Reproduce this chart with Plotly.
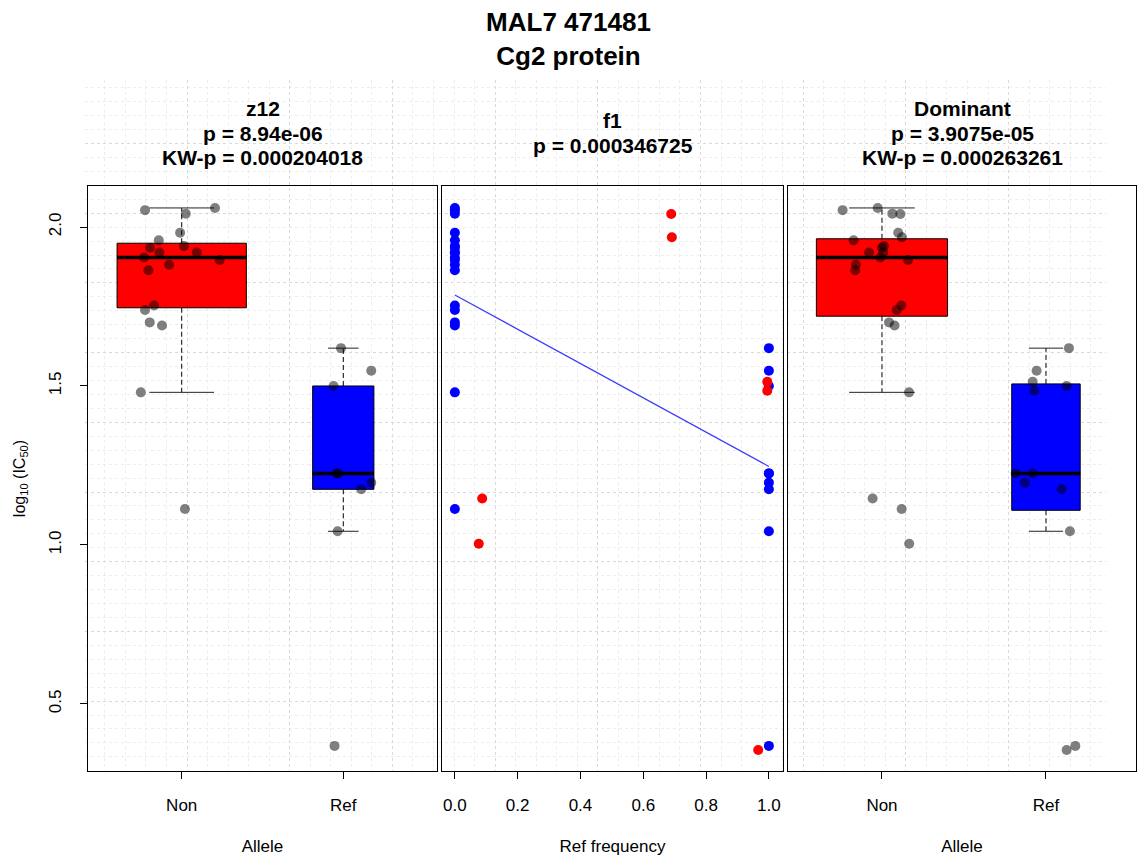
import numpy as np
import plotly.graph_objects as go

W, H = 1137, 856
FONT = "Liberation Sans"

main_title = ["MAL7 471481", "Cg2 protein"]

panel_titles = [
    ["z12", "p = 8.94e-06", "KW-p = 0.000204018"],
    ["f1", "p = 0.000346725"],
    ["Dominant", "p = 3.9075e-05", "KW-p = 0.000263261"],
]

allele_labels = ["Non", "Ref"]
freq_ticks = [0.0, 0.2, 0.4, 0.6, 0.8, 1.0]
y_ticks = [0.5, 1.0, 1.5, 2.0]

# z12 genotype: log10(IC50) with horizontal jitter positions
z12_non_y = [2.053, 2.060, 2.042, 1.982, 1.958, 1.935, 1.920, 1.940, 1.920, 1.904,
             1.896, 1.881, 1.864, 1.739, 1.753, 1.700, 1.690, 1.480, 1.113]
z12_non_x = [0.773, 1.206, 1.025, 0.990, 0.858, 0.804, 0.862, 1.014, 1.093, 0.767,
             1.235, 0.922, 0.794, 0.773, 0.829, 0.802, 0.878, 0.747, 1.020]
z12_ref_y = [1.619, 1.548, 1.500, 1.225, 1.225, 1.196, 1.175, 1.043, 0.368]
z12_ref_x = [1.986, 2.173, 1.940, 1.967, 1.960, 2.173, 2.111, 1.965, 1.946]

# f1: reference allele frequency, single-clone samples (blue) and mixed samples (red)
pure_freq = [0.0, 0.0, 0.0, 0.0, 0.0, 0.0, 0.0, 0.0, 0.0, 0.0,
             0.0, 0.0, 0.0, 0.0, 0.0, 0.0, 0.0, 0.0, 0.0,
             1.0, 1.0, 1.0, 1.0, 1.0, 1.0, 1.0, 1.0, 1.0]
pure_y = [2.053, 2.060, 2.042, 1.982, 1.958, 1.935, 1.920, 1.940, 1.920, 1.904,
          1.896, 1.881, 1.864, 1.739, 1.753, 1.700, 1.690, 1.480, 1.113,
          1.619, 1.548, 1.500, 1.225, 1.225, 1.196, 1.175, 1.043, 0.368]
mixed_freq = [0.689, 0.691, 0.087, 0.076, 0.995, 0.995, 0.966]
mixed_y = [2.041, 1.968, 1.146, 1.004, 1.513, 1.485, 0.355]

# Dominant allele
dom_non_y = [2.053, 2.060, 2.042, 2.041, 1.982, 1.968, 1.958, 1.940, 1.935, 1.920,
             1.920, 1.904, 1.896, 1.881, 1.864, 1.753, 1.739, 1.700, 1.690, 1.480,
             1.146, 1.113, 1.004]
dom_non_x = [0.760, 0.974, 1.063, 1.112, 1.099, 1.122, 0.827, 1.012, 1.000, 0.921,
             1.008, 0.990, 1.159, 0.841, 0.837, 1.118, 1.090, 1.043, 1.077, 1.165,
             0.943, 1.120, 1.166]
dom_ref_y = [1.619, 1.548, 1.513, 1.485, 1.500, 1.225, 1.225, 1.196, 1.175, 1.043,
             0.355, 0.368]
dom_ref_x = [2.140, 1.943, 1.919, 1.929, 2.126, 1.815, 1.919, 1.872, 2.096, 2.146,
             2.126, 2.179]


def fivenum(values):
    """Tukey five-number summary (as used by R's boxplot)."""
    v = np.sort(np.asarray(values, dtype=float))
    n = len(v)
    n4 = np.floor((n + 3) / 2) / 2
    d = np.array([1, n4, (n + 1) / 2, n + 1 - n4, n]) - 1
    return 0.5 * (v[np.floor(d).astype(int)] + v[np.ceil(d).astype(int)])


def box_traces(values, center, fill, xa, ya, half):
    v = np.asarray(values, dtype=float)
    _, q1, med, q3, _ = fivenum(v)
    iqr = q3 - q1
    lo = v[v >= q1 - 1.5 * iqr].min()
    hi = v[v <= q3 + 1.5 * iqr].max()
    common = dict(xaxis=xa, yaxis=ya, showlegend=False, hoverinfo="skip", mode="lines")
    out = []
    # whiskers (dashed) and staples
    out.append(go.Scatter(x=[center, center, None, center, center],
                          y=[q3, hi, None, q1, lo],
                          line=dict(color="black", width=1, dash="5px,3px"), **common))
    out.append(go.Scatter(x=[center - half / 2, center + half / 2, None,
                             center - half / 2, center + half / 2],
                          y=[hi, hi, None, lo, lo],
                          line=dict(color="#222222", width=1), **common))
    # box
    out.append(go.Scatter(x=[center - half, center + half, center + half, center - half, center - half],
                          y=[q1, q1, q3, q3, q1], fill="toself", fillcolor=fill,
                          line=dict(color="black", width=1), **common))
    # median
    out.append(go.Scatter(x=[center - half, center + half], y=[med, med],
                          line=dict(color="black", width=3.5), **common))
    return out


def group_boxes(groups, xa, ya):
    """Boxes whose widths are proportional to group size."""
    nmax = max(len(v) for v, _ in groups)
    traces = []
    for i, (vals, fill) in enumerate(groups):
        traces += box_traces(vals, i + 1, fill, xa, ya, half=0.4 * len(vals) / nmax)
    return traces


def jitter_points(x, y, xa, ya):
    return go.Scatter(x=x, y=y, mode="markers", xaxis=xa, yaxis=ya, showlegend=False,
                      marker=dict(size=10, color="rgba(0,0,0,0.5)", line=dict(width=0)),
                      hovertemplate="%{y:.3f}<extra></extra>")


fig = go.Figure()

# empty trace so the background grid subplot is created first (drawn underneath)
fig.add_trace(go.Scatter(x=[], y=[], xaxis="x", yaxis="y", showlegend=False, hoverinfo="skip"))

# z12 panel
for t in group_boxes([(z12_non_y, "#FF0000"), (z12_ref_y, "#0000FF")], "x2", "y2"):
    fig.add_trace(t)
fig.add_trace(jitter_points(z12_non_x, z12_non_y, "x2", "y2"))
fig.add_trace(jitter_points(z12_ref_x, z12_ref_y, "x2", "y2"))

# f1 panel with least-squares line over all samples
all_freq = np.array(pure_freq + mixed_freq)
all_y = np.array(pure_y + mixed_y)
slope, intercept = np.polyfit(all_freq, all_y, 1)
fx = np.array([all_freq.min(), all_freq.max()])
fig.add_trace(go.Scatter(x=fx, y=intercept + slope * fx, mode="lines", xaxis="x3", yaxis="y3",
                         line=dict(color="#3a3aff", width=1.2), showlegend=False, hoverinfo="skip"))
fig.add_trace(go.Scatter(x=pure_freq, y=pure_y, mode="markers", xaxis="x3", yaxis="y3",
                         marker=dict(size=10, color="#0000FF"), showlegend=False))
fig.add_trace(go.Scatter(x=mixed_freq, y=mixed_y, mode="markers", xaxis="x3", yaxis="y3",
                         marker=dict(size=10, color="#FF0000"), showlegend=False))

# Dominant panel
for t in group_boxes([(dom_non_y, "#FF0000"), (dom_ref_y, "#0000FF")], "x4", "y4"):
    fig.add_trace(t)
fig.add_trace(jitter_points(dom_non_x, dom_non_y, "x4", "y4"))
fig.add_trace(jitter_points(dom_ref_x, dom_ref_y, "x4", "y4"))


def px_x(p):
    return p / W


def px_y(p):
    return 1 - p / H


Y_RANGE = [0.289, 2.129]
PANEL_Y = [px_y(771), px_y(186)]
tickfont = dict(family=FONT, size=17, color="black")
titlefont = dict(family=FONT, size=17, color="black")

panel_x = dict(showline=True, mirror=True, linecolor="black", linewidth=1, showgrid=False,
               zeroline=False, ticks="outside", ticklen=7, tickcolor="black", tickwidth=1,
               tickfont=tickfont, ticklabelstandoff=12, fixedrange=True)
panel_y = dict(showline=True, mirror=True, linecolor="black", linewidth=1, showgrid=False,
               zeroline=False, range=Y_RANGE, domain=PANEL_Y, fixedrange=True)

grid_minor = dict(showgrid=True, griddash="dot", gridcolor="#ededed", gridwidth=1)

fig.update_layout(
    width=W, height=H, autosize=False,
    margin=dict(l=0, r=0, t=0, b=0),
    paper_bgcolor="white", plot_bgcolor="rgba(0,0,0,0)",
    font=dict(family=FONT, color="black"),
    title=dict(text="<b>" + "<br>".join(main_title) + "</b>", x=0.5, xanchor="center",
               xref="paper", yref="container", y=px_y(31), yanchor="middle",
               font=dict(family=FONT, size=26, color="black")),
    # background dotted grid
    xaxis=dict(domain=[px_x(85), px_x(1106)], range=[85, 1106], tick0=84.3, dtick=102.7,
               showgrid=True, griddash="dot", gridcolor="#d9d9d9", gridwidth=1,
               minor=dict(tick0=84.3, dtick=20.54, **grid_minor),
               showticklabels=False, ticks="", zeroline=False, showline=False, fixedrange=True),
    yaxis=dict(domain=[px_y(771), px_y(80)], range=[771, 80], tick0=561.7, dtick=69.7,
               showgrid=True, griddash="dot", gridcolor="#d9d9d9", gridwidth=1,
               minor=dict(tick0=561.7, dtick=13.94, **grid_minor),
               showticklabels=False, ticks="", zeroline=False, showline=False, fixedrange=True),
    xaxis2=dict(domain=[px_x(88), px_x(437)], range=[0.42, 2.58], anchor="y2",
                tickvals=[1, 2], ticktext=allele_labels,
                title=dict(text="Allele", font=titlefont, standoff=25), **panel_x),
    yaxis2=dict(anchor="x2", tickvals=y_ticks, ticktext=[f"{v:.1f}" for v in y_ticks],
                ticks="outside", ticklen=7, tickcolor="black", tickangle=-90,
                tickfont=tickfont, ticklabelstandoff=12,
                title=dict(text="log<sub>10</sub> (IC<sub>50</sub>)",
                           font=dict(family=FONT, size=16, color="black"), standoff=16),
                **panel_y),
    xaxis3=dict(domain=[px_x(442), px_x(783)], range=[-0.041, 1.045], anchor="y3",
                tickvals=freq_ticks, ticktext=[f"{v:.1f}" for v in freq_ticks],
                title=dict(text="Ref frequency", font=titlefont, standoff=25), **panel_x),
    yaxis3=dict(anchor="x3", showticklabels=False, ticks="", **panel_y),
    xaxis4=dict(domain=[px_x(788), px_x(1136)], range=[0.427, 2.549], anchor="y4",
                tickvals=[1, 2], ticktext=allele_labels,
                title=dict(text="Allele", font=titlefont, standoff=25), **panel_x),
    yaxis4=dict(anchor="x4", showticklabels=False, ticks="", **panel_y),
)

# multi-line panel headers, centred above each panel
panel_centres = [(88 + 437) / 2, (442 + 783) / 2, (788 + 1137) / 2]
LINE_GAP = 24.5
HEAD_MID = 133
for cx, lines in zip(panel_centres, panel_titles):
    n = len(lines)
    for i, line in enumerate(lines):
        yy = HEAD_MID + (i - (n - 1) / 2) * LINE_GAP
        fig.add_annotation(x=px_x(cx), y=px_y(yy), xref="paper", yref="paper",
                           text=f"<b>{line}</b>", showarrow=False, xanchor="center",
                           yanchor="middle", font=dict(family=FONT, size=21, color="black"))

fig.write_html("out.html")
